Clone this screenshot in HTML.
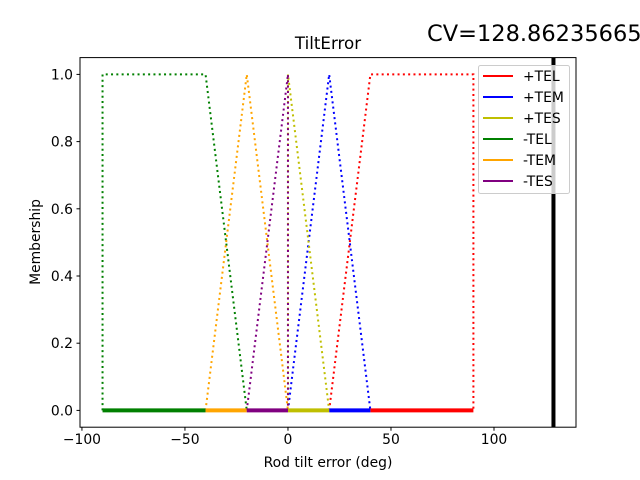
<!DOCTYPE html>
<html><head><meta charset="utf-8"><style>
body{margin:0;background:#fff}
svg{display:block;font-family:"DejaVu Sans","Liberation Sans",sans-serif}
</style></head><body>
<svg id="chart" width="640" height="480" viewBox="0 0 640 480" xmlns="http://www.w3.org/2000/svg">
<rect width="640" height="480" fill="#fff"/>
<text x="328" y="49" font-size="16.7" text-anchor="middle">TiltError</text>
<text x="427" y="41" font-size="22.5">CV=128.86235665</text>
<g id="plot"></g>
<text x="328" y="467" font-size="13.9" text-anchor="middle">Rod tilt error (deg)</text>
<text transform="translate(40,242) rotate(-90)" font-size="13.9" text-anchor="middle">Membership</text>
</svg>
<script>
const seriesNames=["+TEL","+TEM","+TES","-TEL","-TEM","-TES"];
const seriesColors=["#ff0000","#0000ff","#bfbf00","#008000","#ffa500","#800080"];
const seriesX=[[20,40,90,90],[0,20,40],[0,0,20],[-90,-90,-40,-20],[-40,-20,0],[-20,0,0]];
const seriesY=[[0,1,1,0],[0,1,0],[0,1,0],[0,1,1,0],[0,1,0],[0,1,0]];
const baseStart=[40,20,0,-90,-40,-20];
const baseEnd=[90,40,20,-40,-20,0];
const cvValue=128.86235665;
const xTicks=[-100,-50,0,50,100];
const yTicks=[0,0.2,0.4,0.6,0.8,1.0];
const xMin=-100.94,xMax=139.8,yMin=-0.05,yMax=1.05;
const L=80,R=576,T=57.6,B=427.2;
const sx=v=>L+(v-xMin)/(xMax-xMin)*(R-L);
const sy=v=>B-(v-yMin)/(yMax-yMin)*(B-T);
const NS="http://www.w3.org/2000/svg";
const g=document.getElementById('plot');
function mk(tag,attrs,parent){const e=document.createElementNS(NS,tag);for(const k in attrs)e.setAttribute(k,attrs[k]);(parent||g).appendChild(e);return e;}
for(let i=0;i<seriesNames.length;i++){
  const pts=seriesX[i].map((x,j)=>sx(x).toFixed(2)+","+sy(seriesY[i][j]).toFixed(2)).join(" ");
  const p=mk('polyline',{points:pts,fill:'none',stroke:seriesColors[i],'stroke-width':2,'stroke-dasharray':'2 3.3'});
  
  
}
for(let i=0;i<seriesNames.length;i++){
  const ln=mk('line',{x1:sx(baseStart[i]),x2:sx(baseEnd[i]),y1:sy(0),y2:sy(0),stroke:seriesColors[i],'stroke-width':4});
  
  
}
const cv=mk('line',{x1:sx(cvValue),x2:sx(cvValue),y1:T,y2:B,stroke:'#000','stroke-width':4});


const fr=mk('rect',{x:L,y:T,width:R-L,height:B-T,fill:'none',stroke:'#000','stroke-width':1});


xTicks.forEach(v=>{
  const x=sx(v);
  const t=mk('line',{x1:x,x2:x,y1:B,y2:B+3.5,stroke:'#000','stroke-width':1});
  
  
  const tx=mk('text',{x:x,y:B+17,'font-size':13.9,'text-anchor':'middle'});
  tx.textContent=v<0?'\u2212'+(-v):String(v);
  
  
});
yTicks.forEach(v=>{
  const y=sy(v);
  const t=mk('line',{x1:L-3.5,x2:L,y1:y,y2:y,stroke:'#000','stroke-width':1});
  
  
  const tx=mk('text',{x:L-7,y:y+5,'font-size':13.9,'text-anchor':'end'});
  tx.textContent=v.toFixed(1);
  
  
});
const lg=mk('g',{});


mk('rect',{x:478.5,y:65.5,width:91,height:128,rx:2,fill:'#fff','fill-opacity':0.8,stroke:'#ccc','stroke-width':1},lg);
seriesNames.forEach((n,i)=>{
  const y=76+i*21;
  const e=mk('g',{},lg);
  
  
  mk('line',{x1:483,x2:513,y1:y,y2:y,stroke:seriesColors[i],'stroke-width':2},e);
  const t=mk('text',{x:523,y:y+5,'font-size':13.9},e);
  t.textContent=n;
});
</script>
</body></html>
